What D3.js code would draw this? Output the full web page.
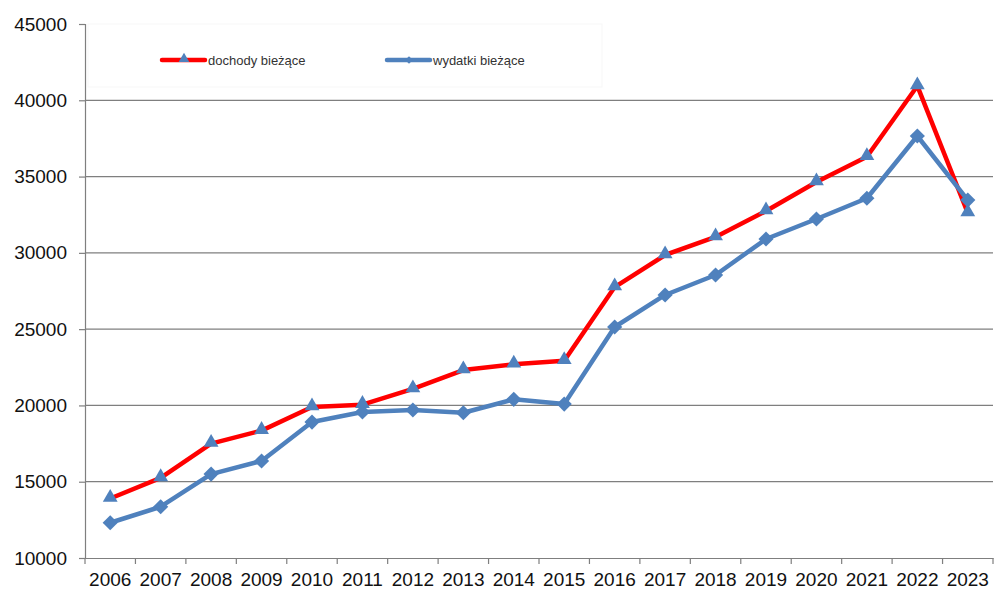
<!DOCTYPE html>
<html>
<head>
<meta charset="utf-8">
<script src="https://cdn.jsdelivr.net/npm/d3@7"></script>
<style>
	body { margin: 0; background: #fff; }
	svg { font-family: "Liberation Sans", Arial, sans-serif; }
</style>
</head>
<body>
<svg id="chart" width="995" height="590"></svg>
<script>
// ------ Data
var years = ["2006","2007","2008","2009","2010","2011","2012","2013","2014","2015","2016","2017","2018","2019","2020","2021","2022","2023"];
var dochody = [13900, 15250, 17500, 18350, 19900, 20050, 21080, 22320, 22700, 22930, 27760, 29860, 31040, 32740, 34640, 36300, 40940, 32610];
var wydatki = [12310, 13360, 15500, 16360, 18910, 19570, 19700, 19520, 20400, 20090, 25140, 27240, 28550, 30910, 32220, 33580, 37660, 33460];
var yTicks = [10000, 15000, 20000, 25000, 30000, 35000, 40000, 45000];
var seriesNames = ["dochody bieżące", "wydatki bieżące"];

// ------ Sizes
var margin = {top: 24, right: 2, bottom: 32, left: 85},
	width = 995 - margin.left - margin.right,
	height = 590 - margin.top - margin.bottom;

var svg = d3.select("#chart")
  .append("g")
	.attr("transform", "translate(" + margin.left + "," + margin.top + ")");

var x = d3.scaleBand().domain(years).range([0, width]);
var y = d3.scaleLinear().domain([10000, 45000]).range([height, 0]);
var xc = function(d, i) { return x(years[i]) + x.bandwidth() / 2; };

// faint legend box
svg.append("rect")
	.attr("x", 3).attr("y", 0)
	.attr("width", 514).attr("height", 63)
	.style("fill", "none")
	.style("stroke", "#f7f7f7");

// gridlines (no line at the top value)
svg.selectAll(".grid")
	.data(yTicks.slice(1, -1))
  .enter().append("line")
	.attr("x1", 0).attr("x2", width)
	.attr("y1", d => y(d)).attr("y2", d => y(d))
	.style("stroke", "#7f7f7f")
	.style("stroke-width", 1.2);

// y-axis
var yAxis = svg.append("g")
	.call(d3.axisLeft(y).tickValues(yTicks).tickSize(6).tickPadding(12).tickFormat(d3.format("d")));
yAxis.selectAll("text").style("font-size", "19px").style("fill", "#111");
yAxis.selectAll("line, path").style("stroke", "#7f7f7f").style("stroke-width", 1.2);

// x-axis with ticks at band edges
var xAxis = svg.append("g")
	.attr("transform", "translate(0," + height + ")")
	.call(d3.axisBottom(x).tickSize(0).tickPadding(15));
xAxis.select(".domain").style("stroke", "#7f7f7f").style("stroke-width", 1.2);
xAxis.selectAll("text").style("font-size", "19px").style("fill", "#111");
svg.selectAll(".xtick")
	.data(years.concat(["end"]))
  .enter().append("line")
	.attr("x1", (d, i) => i * x.bandwidth()).attr("x2", (d, i) => i * x.bandwidth())
	.attr("y1", height).attr("y2", height + 6)
	.style("stroke", "#7f7f7f")
	.style("stroke-width", 1.2);

var line = d3.line().x(xc).y(d => y(d));
var triangle = d3.symbol().type(d3.symbolTriangle).size(95);
var diamond = d3.symbol().type(d3.symbolSquare).size(115);

// red line
svg.append("path")
	.datum(dochody)
	.attr("d", line)
	.style("fill", "none")
	.style("stroke", "#ff0000")
	.style("stroke-width", 4.5)
	.style("stroke-linejoin", "round");

// blue line
svg.append("path")
	.datum(wydatki)
	.attr("d", line)
	.style("fill", "none")
	.style("stroke", "#4f81bd")
	.style("stroke-width", 4.5)
	.style("stroke-linejoin", "round");

// markers
svg.selectAll(".tri")
	.data(dochody)
  .enter().append("path")
	.attr("d", triangle)
	.attr("transform", (d, i) => "translate(" + xc(d, i) + "," + (y(d) - 1) + ")")
	.style("fill", "#4f81bd");

svg.selectAll(".dia")
	.data(wydatki)
  .enter().append("path")
	.attr("d", diamond)
	.attr("transform", (d, i) => "translate(" + xc(d, i) + "," + y(d) + ") rotate(45)")
	.style("fill", "#4f81bd");

// ------ Legend
var legendX = [77, 302], legendColor = ["#ff0000", "#4f81bd"];
var legend = svg.selectAll(".legend")
	.data(seriesNames)
  .enter().append("g")
	.attr("transform", (d, i) => "translate(" + legendX[i] + ",36)");
legend.append("line")
	.attr("x1", 0).attr("x2", 43)
	.style("stroke", (d, i) => legendColor[i])
	.style("stroke-width", 4.5)
	.style("stroke-linecap", "round");
legend.append("path")
	.attr("d", (d, i) => i == 0 ? d3.symbol().type(d3.symbolTriangle).size(50)() : d3.symbol().type(d3.symbolSquare).size(30)())
	.attr("transform", (d, i) => "translate(22," + (i == 0 ? -1 : 0) + ")" + (i == 1 ? " rotate(45)" : ""))
	.style("fill", "#4f81bd");
legend.append("text")
	.attr("x", 46).attr("y", 5)
	.style("font-size", "13px")
	.style("fill", "#333")
	.text(d => d);
</script>
</body>
</html>
